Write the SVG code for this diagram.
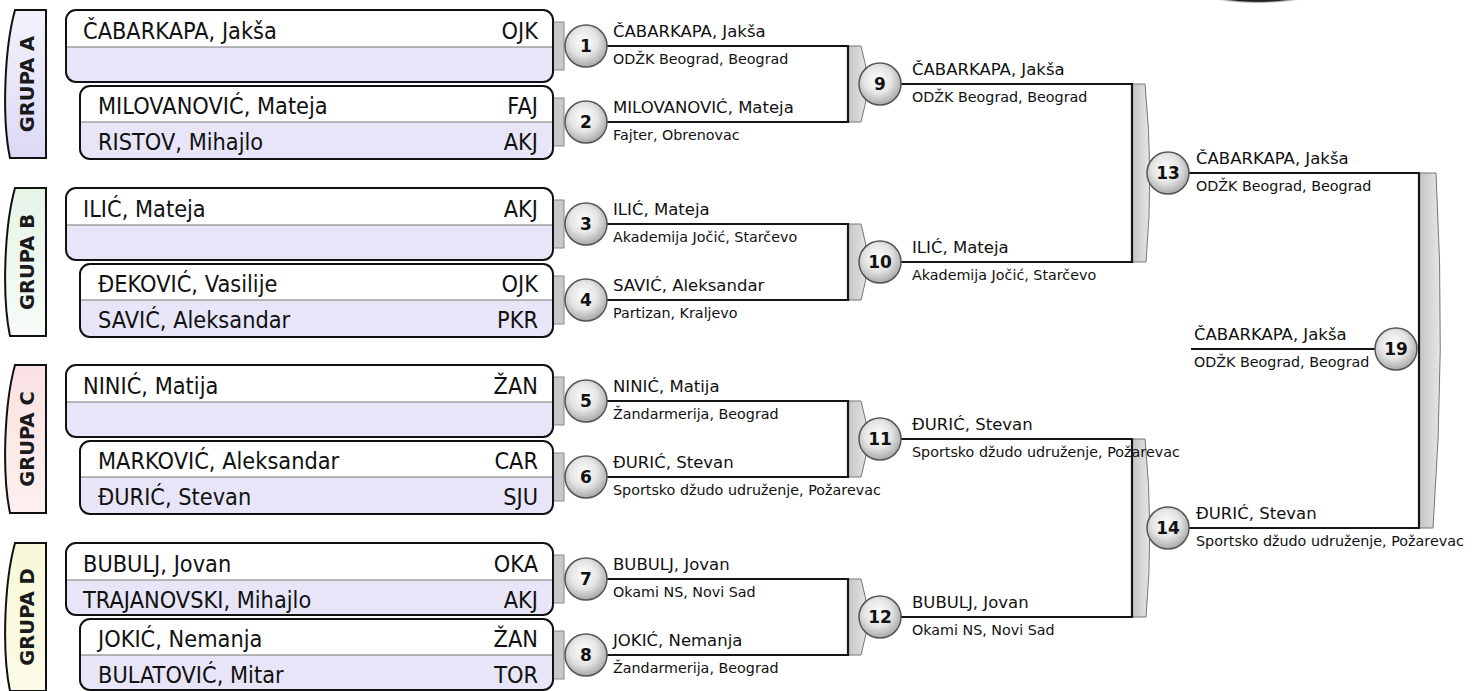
<svg xmlns="http://www.w3.org/2000/svg" width="1483" height="691" viewBox="0 0 1483 691">
<style>
.t{font-family:"DejaVu Sans","Liberation Sans",sans-serif;fill:#111}
.pn{font-size:22.8px}
.code{font-size:22.8px;text-anchor:end}
.wn{font-size:16.5px}
.wc{font-size:14.3px}
.num{font-size:17px;font-weight:bold;text-anchor:middle}
.gt{font-size:19.5px;font-weight:bold;text-anchor:middle;fill:#1a1a1a}
.tab{stroke:#111;stroke-width:2}
.frame{fill:none;stroke:#111;stroke-width:2}
.row1{fill:#ffffff}
.row2{fill:#e7e5f7}
.div{stroke:#777;stroke-width:1.2}
.stub{fill:#c8c8c8;stroke:#8a8a8a;stroke-width:1}
.brk{fill:url(#gbrk);stroke:#777;stroke-width:1}
.conn{fill:none;stroke:#151515;stroke-width:2.2}
.ball{fill:url(#gball);stroke:#555;stroke-width:1.5}
</style>
<defs>
<radialGradient id="gball" cx="0.45" cy="0.4" r="0.6">
<stop offset="0" stop-color="#ffffff"/>
<stop offset="0.55" stop-color="#e4e4e4"/>
<stop offset="1" stop-color="#a9a9a9"/>
</radialGradient>
<linearGradient id="gbrk" x1="0" y1="0" x2="1" y2="0">
<stop offset="0" stop-color="#c4c4c4"/>
<stop offset="1" stop-color="#e6e6e6"/>
</linearGradient>
<linearGradient id="ga" x1="0" y1="0" x2="0" y2="1"><stop offset="0" stop-color="#f3f2fc"/><stop offset="1" stop-color="#dcd9f5"/></linearGradient>
<linearGradient id="gb" x1="0" y1="0" x2="0" y2="1"><stop offset="0" stop-color="#e6f4e8"/><stop offset="1" stop-color="#f7fbf7"/></linearGradient>
<linearGradient id="gc" x1="0" y1="0" x2="0" y2="1"><stop offset="0" stop-color="#fae1e3"/><stop offset="1" stop-color="#fdf0f0"/></linearGradient>
<linearGradient id="gd" x1="0" y1="0" x2="0" y2="1"><stop offset="0" stop-color="#f8f8d8"/><stop offset="1" stop-color="#fbfbe8"/></linearGradient>
<radialGradient id="gblob" cx="0.5" cy="0.5" r="0.5">
<stop offset="0" stop-color="#000"/>
<stop offset="0.8" stop-color="#222"/>
<stop offset="1" stop-color="#fff" stop-opacity="0"/>
</radialGradient>
</defs>
<rect width="1483" height="691" fill="#ffffff"/>
<ellipse cx="1258" cy="-9" rx="62" ry="13" fill="url(#gblob)"/>

<!-- group tabs -->
<g id="grupa-a"><path class="tab" fill="url(#ga)" d="M46,10 H15 C4,50 2,120 10,158 H46 Z"/><text class="t gt" transform="translate(34,84) rotate(-90)">GRUPA A</text></g>
<g id="grupa-b"><path class="tab" fill="url(#gb)" d="M46,188 H15 C4,228 2,298 10,336 H46 Z"/><text class="t gt" transform="translate(34,262) rotate(-90)">GRUPA B</text></g>
<g id="grupa-c"><path class="tab" fill="url(#gc)" d="M46,365 H15 C4,405 2,475 10,513 H46 Z"/><text class="t gt" transform="translate(34,439) rotate(-90)">GRUPA C</text></g>
<g id="grupa-d"><path class="tab" fill="url(#gd)" d="M46,543 H15 C4,583 2,653 10,691 H46 Z"/><text class="t gt" transform="translate(34,617) rotate(-90)">GRUPA D</text></g>

<!-- connectors -->
<g id="connectors">
<rect class="stub" x="552" y="22" width="12" height="48"/>
<rect class="stub" x="552" y="98" width="12" height="48"/>
<rect class="stub" x="552" y="200" width="12" height="48"/>
<rect class="stub" x="552" y="276" width="12" height="48"/>
<rect class="stub" x="552" y="377" width="12" height="48"/>
<rect class="stub" x="552" y="453" width="12" height="48"/>
<rect class="stub" x="552" y="555" width="12" height="48"/>
<rect class="stub" x="552" y="631" width="12" height="48"/>
<path class="brk" d="M848,46 H861 Q873,84 861,122 H848 Z"/>
<path class="brk" d="M848,224 H861 Q873,262 861,300 H848 Z"/>
<path class="brk" d="M848,401 H861 Q873,439 861,477 H848 Z"/>
<path class="brk" d="M848,579 H861 Q873,617 861,655 H848 Z"/>
<path class="brk" d="M1132,84 H1145 Q1154,173 1146,262 H1132 Z"/>
<path class="brk" d="M1132,439 H1145 Q1154,528 1146,617 H1132 Z"/>
<path class="brk" d="M1419,173 H1436 Q1446,350 1433,528 H1419 Z"/>
<path class="conn" d="M606,46 H848 V122 H606"/>
<path class="conn" d="M606,224 H848 V300 H606"/>
<path class="conn" d="M606,401 H848 V477 H606"/>
<path class="conn" d="M606,579 H848 V655 H606"/>
<path class="conn" d="M900,84 H1132 V262 H900"/>
<path class="conn" d="M900,439 H1132 V617 H900"/>
<path class="conn" d="M1188,173 H1419 V528 H1188"/>
<path class="conn" d="M1191,349 H1376"/>
</g>

<!-- player boxes -->
<g id="box-1">
<rect class="row2" x="66" y="10" width="487" height="72" rx="10"/>
<path class="row1" d="M66,47 V20 Q66,10 76,10 H543 Q553,10 553,20 V47 Z"/>
<line class="div" x1="66" y1="47" x2="553" y2="47"/>
<rect class="frame" x="66" y="10" width="487" height="72" rx="10"/>
<text class="t pn" transform="translate(83,39) scale(0.92,1)">ČABARKAPA, Jakša</text><text class="t code" transform="translate(538,39) scale(0.92,1)">OJK</text>
</g>
<g id="box-2">
<rect class="row2" x="80" y="86" width="473" height="73" rx="10"/>
<path class="row1" d="M80,122 V96 Q80,86 90,86 H543 Q553,86 553,96 V122 Z"/>
<line class="div" x1="80" y1="122" x2="553" y2="122"/>
<rect class="frame" x="80" y="86" width="473" height="73" rx="10"/>
<text class="t pn" transform="translate(98,114) scale(0.92,1)">MILOVANOVIĆ, Mateja</text><text class="t code" transform="translate(538,114) scale(0.92,1)">FAJ</text>
<text class="t pn" transform="translate(98,150) scale(0.92,1)">RISTOV, Mihajlo</text><text class="t code" transform="translate(538,150) scale(0.92,1)">AKJ</text>
</g>
<g id="box-3">
<rect class="row2" x="66" y="188" width="487" height="72" rx="10"/>
<path class="row1" d="M66,225 V198 Q66,188 76,188 H543 Q553,188 553,198 V225 Z"/>
<line class="div" x1="66" y1="225" x2="553" y2="225"/>
<rect class="frame" x="66" y="188" width="487" height="72" rx="10"/>
<text class="t pn" transform="translate(83,217) scale(0.92,1)">ILIĆ, Mateja</text><text class="t code" transform="translate(538,217) scale(0.92,1)">AKJ</text>
</g>
<g id="box-4">
<rect class="row2" x="80" y="264" width="473" height="73" rx="10"/>
<path class="row1" d="M80,300 V274 Q80,264 90,264 H543 Q553,264 553,274 V300 Z"/>
<line class="div" x1="80" y1="300" x2="553" y2="300"/>
<rect class="frame" x="80" y="264" width="473" height="73" rx="10"/>
<text class="t pn" transform="translate(98,292) scale(0.92,1)">ĐEKOVIĆ, Vasilije</text><text class="t code" transform="translate(538,292) scale(0.92,1)">OJK</text>
<text class="t pn" transform="translate(98,328) scale(0.92,1)">SAVIĆ, Aleksandar</text><text class="t code" transform="translate(538,328) scale(0.92,1)">PKR</text>
</g>
<g id="box-5">
<rect class="row2" x="66" y="365" width="487" height="72" rx="10"/>
<path class="row1" d="M66,402 V375 Q66,365 76,365 H543 Q553,365 553,375 V402 Z"/>
<line class="div" x1="66" y1="402" x2="553" y2="402"/>
<rect class="frame" x="66" y="365" width="487" height="72" rx="10"/>
<text class="t pn" transform="translate(83,394) scale(0.92,1)">NINIĆ, Matija</text><text class="t code" transform="translate(538,394) scale(0.92,1)">ŽAN</text>
</g>
<g id="box-6">
<rect class="row2" x="80" y="441" width="473" height="73" rx="10"/>
<path class="row1" d="M80,477 V451 Q80,441 90,441 H543 Q553,441 553,451 V477 Z"/>
<line class="div" x1="80" y1="477" x2="553" y2="477"/>
<rect class="frame" x="80" y="441" width="473" height="73" rx="10"/>
<text class="t pn" transform="translate(98,469) scale(0.92,1)">MARKOVIĆ, Aleksandar</text><text class="t code" transform="translate(538,469) scale(0.92,1)">CAR</text>
<text class="t pn" transform="translate(98,505) scale(0.92,1)">ĐURIĆ, Stevan</text><text class="t code" transform="translate(538,505) scale(0.92,1)">SJU</text>
</g>
<g id="box-7">
<rect class="row2" x="66" y="543" width="487" height="72" rx="10"/>
<path class="row1" d="M66,580 V553 Q66,543 76,543 H543 Q553,543 553,553 V580 Z"/>
<line class="div" x1="66" y1="580" x2="553" y2="580"/>
<rect class="frame" x="66" y="543" width="487" height="72" rx="10"/>
<text class="t pn" transform="translate(83,572) scale(0.92,1)">BUBULJ, Jovan</text><text class="t code" transform="translate(538,572) scale(0.92,1)">OKA</text>
<text class="t pn" transform="translate(83,608) scale(0.92,1)">TRAJANOVSKI, Mihajlo</text><text class="t code" transform="translate(538,608) scale(0.92,1)">AKJ</text>
</g>
<g id="box-8">
<rect class="row2" x="80" y="619" width="473" height="71" rx="10"/>
<path class="row1" d="M80,655 V629 Q80,619 90,619 H543 Q553,619 553,629 V655 Z"/>
<line class="div" x1="80" y1="655" x2="553" y2="655"/>
<rect class="frame" x="80" y="619" width="473" height="71" rx="10"/>
<text class="t pn" transform="translate(98,647) scale(0.92,1)">JOKIĆ, Nemanja</text><text class="t code" transform="translate(538,647) scale(0.92,1)">ŽAN</text>
<text class="t pn" transform="translate(98,683) scale(0.92,1)">BULATOVIĆ, Mitar</text><text class="t code" transform="translate(538,683) scale(0.92,1)">TOR</text>
</g>

<!-- matches -->
<g id="m1"><circle class="ball" cx="586" cy="46" r="21"/><text class="t num" x="586" y="52">1</text><text class="t wn" x="613" y="37">ČABARKAPA, Jakša</text><text class="t wc" x="613" y="64">ODŽK Beograd, Beograd</text></g>
<g id="m2"><circle class="ball" cx="586" cy="122" r="21"/><text class="t num" x="586" y="128">2</text><text class="t wn" x="613" y="113">MILOVANOVIĆ, Mateja</text><text class="t wc" x="613" y="140">Fajter, Obrenovac</text></g>
<g id="m3"><circle class="ball" cx="586" cy="224" r="21"/><text class="t num" x="586" y="230">3</text><text class="t wn" x="613" y="215">ILIĆ, Mateja</text><text class="t wc" x="613" y="242">Akademija Jočić, Starčevo</text></g>
<g id="m4"><circle class="ball" cx="586" cy="300" r="21"/><text class="t num" x="586" y="306">4</text><text class="t wn" x="613" y="291">SAVIĆ, Aleksandar</text><text class="t wc" x="613" y="318">Partizan, Kraljevo</text></g>
<g id="m5"><circle class="ball" cx="586" cy="401" r="21"/><text class="t num" x="586" y="407">5</text><text class="t wn" x="613" y="392">NINIĆ, Matija</text><text class="t wc" x="613" y="419">Žandarmerija, Beograd</text></g>
<g id="m6"><circle class="ball" cx="586" cy="477" r="21"/><text class="t num" x="586" y="483">6</text><text class="t wn" x="613" y="468">ĐURIĆ, Stevan</text><text class="t wc" x="613" y="495">Sportsko džudo udruženje, Požarevac</text></g>
<g id="m7"><circle class="ball" cx="586" cy="579" r="21"/><text class="t num" x="586" y="585">7</text><text class="t wn" x="613" y="570">BUBULJ, Jovan</text><text class="t wc" x="613" y="597">Okami NS, Novi Sad</text></g>
<g id="m8"><circle class="ball" cx="586" cy="655" r="21"/><text class="t num" x="586" y="661">8</text><text class="t wn" x="613" y="646">JOKIĆ, Nemanja</text><text class="t wc" x="613" y="673">Žandarmerija, Beograd</text></g>
<g id="m9"><circle class="ball" cx="880" cy="84" r="21"/><text class="t num" x="880" y="90">9</text><text class="t wn" x="912" y="75">ČABARKAPA, Jakša</text><text class="t wc" x="912" y="102">ODŽK Beograd, Beograd</text></g>
<g id="m10"><circle class="ball" cx="880" cy="262" r="21"/><text class="t num" x="880" y="268">10</text><text class="t wn" x="912" y="253">ILIĆ, Mateja</text><text class="t wc" x="912" y="280">Akademija Jočić, Starčevo</text></g>
<g id="m11"><circle class="ball" cx="880" cy="439" r="21"/><text class="t num" x="880" y="445">11</text><text class="t wn" x="912" y="430">ĐURIĆ, Stevan</text><text class="t wc" x="912" y="457">Sportsko džudo udruženje, Požarevac</text></g>
<g id="m12"><circle class="ball" cx="880" cy="617" r="21"/><text class="t num" x="880" y="623">12</text><text class="t wn" x="912" y="608">BUBULJ, Jovan</text><text class="t wc" x="912" y="635">Okami NS, Novi Sad</text></g>
<g id="m13"><circle class="ball" cx="1168" cy="173" r="21"/><text class="t num" x="1168" y="179">13</text><text class="t wn" x="1196" y="164">ČABARKAPA, Jakša</text><text class="t wc" x="1196" y="191">ODŽK Beograd, Beograd</text></g>
<g id="m14"><circle class="ball" cx="1168" cy="528" r="21"/><text class="t num" x="1168" y="534">14</text><text class="t wn" x="1196" y="519">ĐURIĆ, Stevan</text><text class="t wc" x="1196" y="546">Sportsko džudo udruženje, Požarevac</text></g>
<g id="m19"><circle class="ball" cx="1396" cy="349" r="21"/><text class="t num" x="1396" y="355">19</text><text class="t wn" x="1194" y="340">ČABARKAPA, Jakša</text><text class="t wc" x="1194" y="367">ODŽK Beograd, Beograd</text></g>
</svg>
